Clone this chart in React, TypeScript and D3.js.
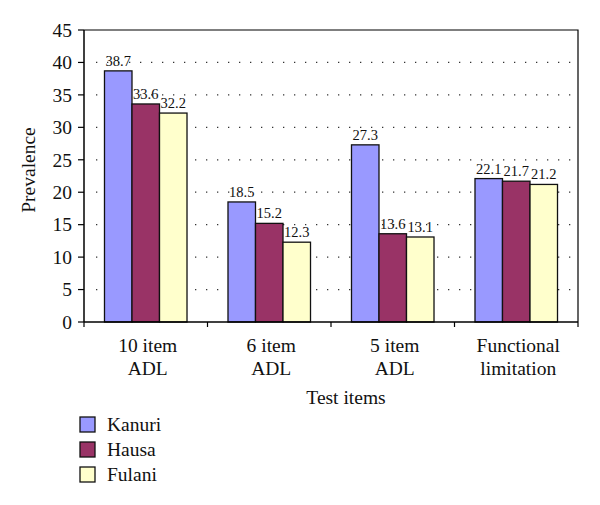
import React from "react";
import * as d3 from "d3";

const categories = [["10 item", "ADL"], ["6 item", "ADL"], ["5 item", "ADL"], ["Functional", "limitation"]];
const seriesNames = ["Kanuri", "Hausa", "Fulani"];
const kanuri = [38.7, 18.5, 27.3, 22.1];
const hausa = [33.6, 15.2, 13.6, 21.7];
const fulani = [32.2, 12.3, 13.1, 21.2];
const yTicks = [0, 5, 10, 15, 20, 25, 30, 35, 40, 45];
const colors = ["#9999FF", "#993366", "#FFFFCC"];

const seriesValues = [kanuri, hausa, fulani];
const FONT = "Liberation Serif, Times New Roman, serif";

export default function App() {
  const left = 84, right = 578, top = 30, bottom = 322;
  const catKeys = categories.map((c) => c.join(" "));
  const x0 = d3.scaleBand<string>().domain(catKeys).range([left, right]).paddingInner(0).paddingOuter(0);
  const x1 = d3.scaleBand<string>().domain(seriesNames).range([0, x0.bandwidth()]).paddingInner(0).paddingOuter(0.745);
  const y = d3.scaleLinear().domain([0, 45]).range([bottom, top]);

  return (
    <svg width={600} height={505} style={{ position: "absolute", left: 0, top: 0, background: "#fff", fontFamily: FONT }}>
      {/* grid */}
      {yTicks.filter((t) => t > 0 && t < 45).map((t) => (
        <line key={"g" + t} x1={left + 12} x2={right - 4} y1={y(t)} y2={y(t)} stroke="#333" strokeWidth={1.3} strokeDasharray="1.3 9.7" />
      ))}
      {/* frame */}
      <path d={`M${left},${top}H${right}V${bottom}`} fill="none" stroke="#000" strokeWidth={1.2} />
      {/* bars */}
      {seriesValues.map((vals, si) =>
        vals.map((v, ci) => {
          const bx = (x0(catKeys[ci]) as number) + (x1(seriesNames[si]) as number);
          return (
            <g key={`b${si}-${ci}`}>
              <rect x={bx} y={y(v)} width={x1.bandwidth()} height={bottom - y(v)} fill={colors[si]} stroke="#111" strokeWidth={1.3} />
              <text x={bx + x1.bandwidth() / 2} y={y(v) - 5} textAnchor="middle" fontSize={14.5} fill="#111">{v.toFixed(1)}</text>
            </g>
          );
        })
      )}
      {/* y axis */}
      <line x1={left} x2={left} y1={top} y2={bottom} stroke="#000" strokeWidth={1.5} />
      {yTicks.map((t) => (
        <g key={"y" + t}>
          <line x1={left - 6} x2={left} y1={y(t)} y2={y(t)} stroke="#000" strokeWidth={1.2} />
          <text x={left - 12} y={y(t)} dy="0.35em" textAnchor="end" fontSize={19.5} fill="#111">{t}</text>
        </g>
      ))}
      {/* x axis */}
      <line x1={left} x2={right} y1={bottom} y2={bottom} stroke="#000" strokeWidth={1.5} />
      {catKeys.map((k, i) => (
        <line key={"xt" + i} x1={(x0(k) as number)} x2={(x0(k) as number)} y1={bottom} y2={bottom + 5} stroke="#000" strokeWidth={1.2} />
      ))}
      <line x1={right} x2={right} y1={bottom} y2={bottom + 5} stroke="#000" strokeWidth={1.2} />
      {categories.map((c, i) => {
        const cx = (x0(catKeys[i]) as number) + x0.bandwidth() / 2 + 2;
        return (
          <text key={"xl" + i} textAnchor="middle" fontSize={19.5} fill="#111">
            <tspan x={cx} y={352}>{c[0]}</tspan>
            <tspan x={cx} y={375}>{c[1]}</tspan>
          </text>
        );
      })}
      <text x={346} y={404} textAnchor="middle" fontSize={19.5} fill="#111">Test items</text>
      <text transform={`translate(35,170) rotate(-90)`} textAnchor="middle" fontSize={19.5} fill="#111">Prevalence</text>
      {/* legend */}
      {seriesNames.map((s, i) => (
        <g key={"l" + s} transform={`translate(80,${417 + i * 25})`}>
          <rect x={0} y={0} width={15} height={15} fill={colors[i]} stroke="#111" strokeWidth={1.3} />
          <text x={27} y={14} fontSize={19.5} fill="#111">{s}</text>
        </g>
      ))}
    </svg>
  );
}
